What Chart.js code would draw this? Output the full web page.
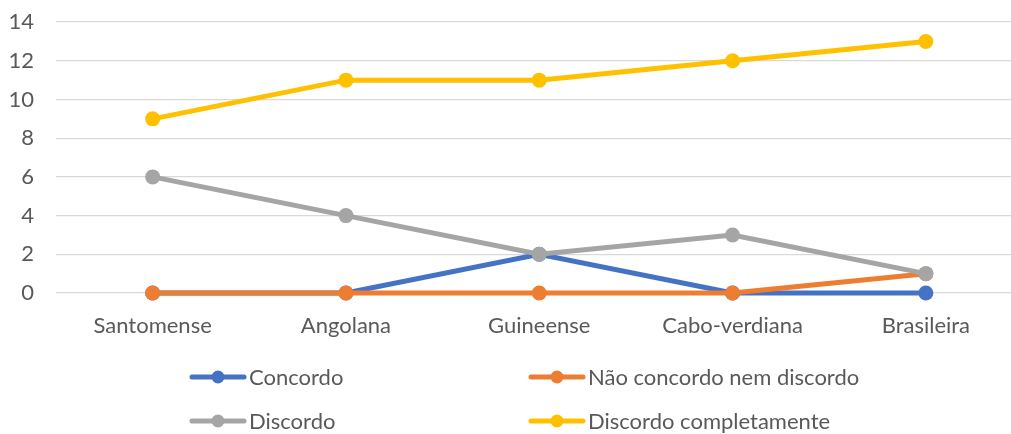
<!DOCTYPE html>
<html>
<head>
<meta charset="utf-8">
<script src="https://cdn.jsdelivr.net/npm/chart.js@4"></script>
<style>
  html, body { margin: 0; padding: 0; background: #fff; overflow: hidden; }
  #wrap { position: relative; width: 1030px; height: 434px; }
  #legend { position: absolute; left: 0; top: 0; width: 1011px; height: 434px; pointer-events: none; }
  .leg-item { position: absolute; display: flex; align-items: center; font-family: Lato, 'Open Sans', sans-serif; font-size: 22px; color: #595959; }
  .leg-item canvas { margin-right: 2px; }
</style>
</head>
<body>
<div id="wrap">
  <canvas id="chart1" width="1030" height="434"></canvas>
  <div id="legend"></div>
</div>
<script>
let categories = ['Santomense', 'Angolana', 'Guineense', 'Cabo-verdiana', 'Brasileira'];
let concordo = [0, 0, 2, 0, 0];
let nao_concordo = [0, 0, 0, 0, 1];
let discordo = [6, 4, 2, 3, 1];
let discordo_compl = [9, 11, 11, 12, 13];
let series_names = ['Concordo', 'Não concordo nem discordo', 'Discordo', 'Discordo completamente'];
let series_colors = ['#4472C4', '#ED7D31', '#A5A5A5', '#FFC000'];
let series_values = [concordo, nao_concordo, discordo, discordo_compl];
// legend slots, left column then right column
let legend_pos = [[189, 363], [528, 363], [189, 407], [528, 407]];

let font_fam = "Lato, 'Open Sans', sans-serif";

let datasets = series_values.map((vals, i) => ({
    label: series_names[i],
    data: vals,
    borderColor: series_colors[i],
    backgroundColor: series_colors[i],
    borderWidth: 5,
    pointRadius: 7.5,
    pointHoverRadius: 7.5,
    pointBorderWidth: 0,
    tension: 0,
    clip: false,
    order: 4 - i,
}));

var ctx = document.getElementById('chart1');
var chart = new Chart(ctx, {
    type: 'line',
    data: { labels: categories, datasets: datasets },
    options: {
        responsive: false,
        animation: false,
        layout: { padding: { top: 0, right: 6, left: 0, bottom: 0 } },
        scales: {
            x: {
                offset: true,
                grid: { display: false, drawTicks: false },
                border: { display: false },
                ticks: { color: '#595959', font: { family: font_fam, size: 22 }, padding: 20 },
                afterFit: (s) => { s.height = 141; },
            },
            y: {
                min: 0,
                max: 14,
                // tiny lineHeight so the top label does not push the plot down
                ticks: { stepSize: 2, color: '#595959', font: { family: font_fam, size: 22, lineHeight: 0.01 }, padding: 22 },
                grid: { color: '#D9D9D9', lineWidth: 1.3, drawTicks: false },
                border: { display: false },
                afterFit: (s) => { s.width = 56; },
            },
        },
        plugins: {
            legend: { display: false },
            tooltip: { enabled: false },
        },
    },
});

// legend drawn as html, built from the datasets
let legend_div = document.getElementById('legend');
series_names.forEach((name, i) => {
    let item = document.createElement('div');
    item.className = 'leg-item';
    item.style.left = legend_pos[i][0] + 'px';
    item.style.top = legend_pos[i][1] + 'px';
    let c = document.createElement('canvas');
    c.width = 58; c.height = 26;
    let g = c.getContext('2d');
    g.strokeStyle = series_colors[i];
    g.lineWidth = 5;
    g.lineCap = 'round';
    g.beginPath(); g.moveTo(3, 13); g.lineTo(55, 13); g.stroke();
    g.fillStyle = series_colors[i];
    g.beginPath(); g.arc(29, 13, 6.5, 0, Math.PI * 2); g.fill();
    item.appendChild(c);
    let sp = document.createElement('span');
    sp.textContent = name;
    item.appendChild(sp);
    legend_div.appendChild(item);
});
</script>
</body>
</html>
